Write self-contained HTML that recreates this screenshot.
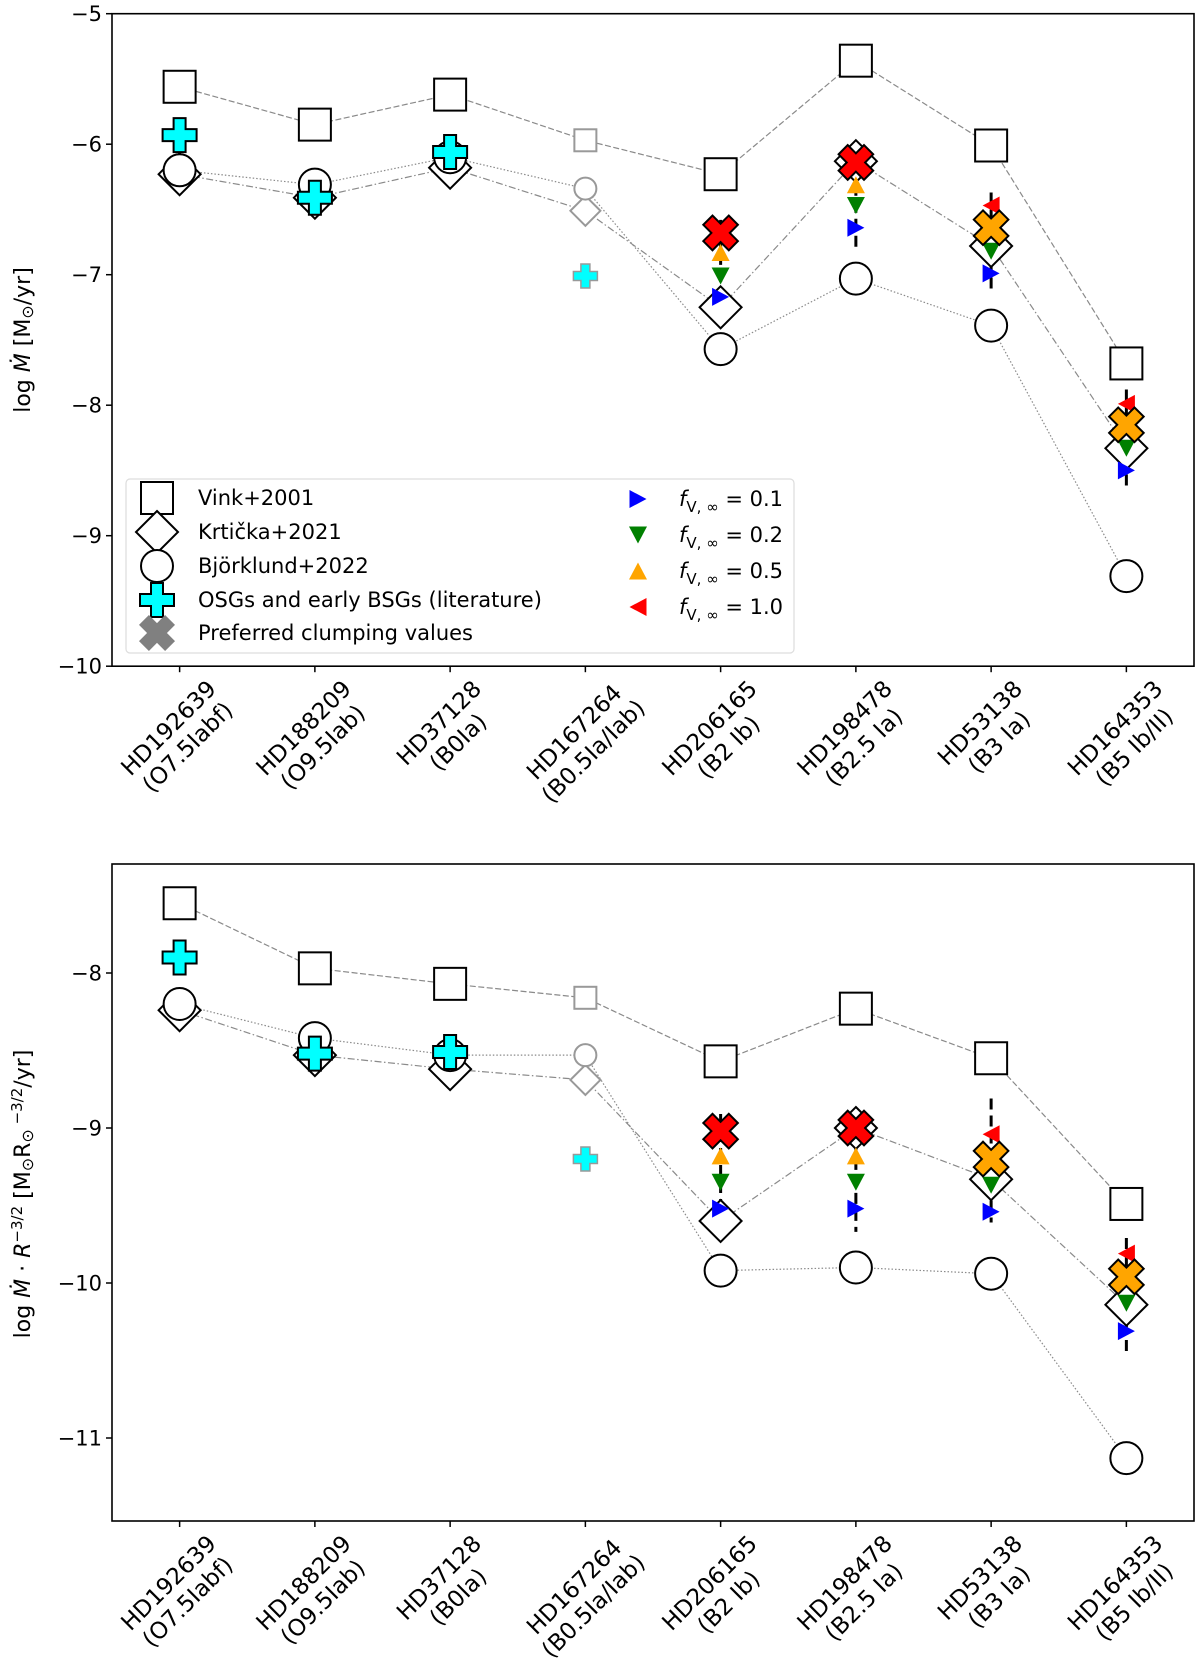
<!DOCTYPE html>
<html><head><meta charset="utf-8"><style>
body{margin:0;background:#fff}
svg{display:block;font-family:"DejaVu Sans","Liberation Sans",sans-serif}
</style></head><body>
<svg id="fig" width="1200" height="1668" viewBox="0 0 1200 1668" xmlns="http://www.w3.org/2000/svg">
<rect width="1200" height="1668" fill="#fff"/>
<g id="top"></g>
<g id="bot"></g>
<g id="legend"></g>
</svg>
<script>
const stars = ["HD192639","HD188209","HD37128","HD167264","HD206165","HD198478","HD53138","HD164353"];
const spTypes = ["(O7.5Iabf)","(O9.5Iab)","(B0Ia)","(B0.5Ia/Iab)","(B2 Ib)","(B2.5 Ia)","(B3 Ia)","(B5 Ib/II)"];
const clumpIdx = [4,5,6,7];
const prefColors = ["#ff0000","#ff0000","#ffa500","#ffa500"];
// top panel
const vinkTop = [-5.56,-5.85,-5.62,-5.97,-6.23,-5.36,-6.01,-7.68];
const krtTop = [-6.23,-6.41,-6.18,-6.51,-7.25,-6.13,-6.78,-8.33];
const bjoTop = [-6.20,-6.31,-6.10,-6.34,-7.57,-7.03,-7.39,-9.31];
const litTop = [-5.93,-6.41,-6.06,-7.01];
const prefTop = [-6.68,-6.14,-6.64,-8.15];
const fv01Top = [-7.17,-6.64,-6.99,-8.50];
const fv02Top = [-7.01,-6.47,-6.82,-8.33];
const fv05Top = [-6.83,-6.31,-6.64,-8.15];
const fv10Top = [-6.68,-6.14,-6.47,-7.99];
const errHiTop = [-6.58,-6.05,-6.37,-7.88];
const errLoTop = [-7.35,-6.82,-7.15,-8.66];
const yTicksTop = [-5,-6,-7,-8,-9,-10];
// bottom panel
const vinkBot = [-7.55,-7.97,-8.07,-8.16,-8.57,-8.23,-8.55,-9.49];
const krtBot = [-8.24,-8.53,-8.62,-8.69,-9.60,-9.00,-9.33,-10.14];
const bjoBot = [-8.20,-8.42,-8.53,-8.53,-9.92,-9.90,-9.94,-11.13];
const litBot = [-7.90,-8.52,-8.51,-9.20];
const prefBot = [-9.02,-9.00,-9.20,-9.96];
const fv01Bot = [-9.52,-9.52,-9.54,-10.31];
const fv02Bot = [-9.35,-9.35,-9.37,-10.13];
const fv05Bot = [-9.18,-9.18,-9.20,-9.96];
const fv10Bot = [-9.02,-9.00,-9.04,-9.81];
const errHiBot = [-8.91,-8.87,-8.81,-9.71];
const errLoBot = [-9.71,-9.67,-9.61,-10.46];
const yTicksBot = [-8,-9,-10,-11];

const NS="http://www.w3.org/2000/svg";
function mk(parent,tag,attrs){const e=document.createElementNS(NS,tag);for(const k in attrs)e.setAttribute(k,attrs[k]);parent.appendChild(e);return e;}
const X0=112,X1=1194;
function xPos(i){return X0+(i+0.5)*135.25;}
function yTop(v){return 13.7+(-5-v)*130.5;}
function yBot(v){return 973+(-8-v)*155;}

function crossPts(L,a,rot){
  const p=[[-a,-L],[a,-L],[a,-a],[L,-a],[L,a],[a,a],[a,L],[-a,L],[-a,a],[-L,a],[-L,-a],[-a,-a]];
  const c=Math.cos(rot),s=Math.sin(rot);
  return p.map(q=>[q[0]*c-q[1]*s,q[0]*s+q[1]*c]);
}
function poly(g,cx,cy,pts,fill,stroke,sw,name){
  const e=mk(g,'polygon',{points:pts.map(p=>(cx+p[0]).toFixed(1)+','+(cy+p[1]).toFixed(1)).join(' '),fill:fill,stroke:stroke,'stroke-width':sw,'stroke-linejoin':'miter'});
  
  
  return e;
}
function square(g,cx,cy,s,col,name){const e=mk(g,'rect',{x:cx-s/2,y:cy-s/2,width:s,height:s,fill:'#fff',stroke:col,'stroke-width':2});
  
  }
function diamond(g,cx,cy,h,col,name){poly(g,cx,cy,[[0,-h],[h,0],[0,h],[-h,0]],'#fff',col,2,name);}
function circ(g,cx,cy,r,col,name){const e=mk(g,'circle',{cx:cx,cy:cy,r:r,fill:'#fff',stroke:col,'stroke-width':2});
  
  }
function plus(g,cx,cy,L,a,stroke,name){poly(g,cx,cy,crossPts(L,a,0),'#00ffff',stroke,stroke==='#000'?2:1.5,name);}
function xmark(g,cx,cy,col,name){poly(g,cx,cy,crossPts(18,6.5,Math.PI/4),col,'#000',2,name);}
function tri(g,cx,cy,dir,col,name){
  const h=8.5,w=9;let p;
  if(dir==='r')p=[[-h,-w],[-h,w],[h,0]];
  else if(dir==='l')p=[[h,-w],[h,w],[-h,0]];
  else if(dir==='d')p=[[-w,-h],[w,-h],[0,h]];
  else p=[[-w,h],[w,h],[0,-h]];
  poly(g,cx,cy,p,col,'none',0,name);
}

function panel(gid,yF,top,bottom,yTicks,d,axisLabel,labelY){
  const g=document.getElementById(gid);
  const fr=mk(g,'rect',{x:X0,y:top,width:X1-X0,height:bottom-top,fill:'#fff',stroke:'#000','stroke-width':1.6});
  
  
  yTicks.forEach(v=>{
    const y=yF(v);
    mk(g,'line',{x1:X0-6,x2:X0,y1:y,y2:y,stroke:'#000','stroke-width':1.5});
    const t=mk(g,'text',{x:X0-10,y:y+7.5,'text-anchor':'end','font-size':21});
    t.textContent='\u2212'+Math.abs(v);
    
    
  });
  stars.forEach((s,i)=>{
    const x=xPos(i);
    mk(g,'line',{x1:x,x2:x,y1:bottom,y2:bottom+6,stroke:'#000','stroke-width':1.5});
    const lg=mk(g,'g',{});
    
    
    const t1=mk(lg,'text',{x:0,y:0,'text-anchor':'middle','font-size':23});t1.textContent=s;
    const t2=mk(lg,'text',{x:0,y:27,'text-anchor':'middle','font-size':23});t2.textContent=spTypes[i];
    const W=Math.max(t1.getComputedTextLength(),t2.getComputedTextLength());
    const asc=17,desc=33;
    const c=Math.SQRT1_2;
    const corners=[[-W/2,-asc],[W/2,-asc],[W/2,desc],[-W/2,desc]].map(p=>[p[0]*c+p[1]*c,-p[0]*c+p[1]*c]);
    const xs=corners.map(p=>p[0]),ys=corners.map(p=>p[1]);
    const cxb=(Math.min(...xs)+Math.max(...xs))/2, tb=Math.min(...ys);
    lg.setAttribute('transform','translate('+(x-cxb).toFixed(1)+','+(bottom+12-tb).toFixed(1)+') rotate(-45)');
  });
  const al=mk(g,'text',{x:0,y:0,'text-anchor':'middle','font-size':22,transform:'translate(30,'+labelY+') rotate(-90)'});
  al.innerHTML=axisLabel;
  
  
  const lineDefs=[[d.vink,'6,2.5','vink-line'],[d.krt,'7,2.5,1.5,2.5','krticka-line'],[d.bjo,'1.5,2','bjorklund-line']];
  lineDefs.forEach(ld=>{
    const pts=ld[0].map((v,i)=>xPos(i).toFixed(1)+','+yF(v).toFixed(1)).join(' ');
    const pl=mk(g,'polyline',{points:pts,fill:'none',stroke:'#8a8a8a','stroke-width':1.2,'stroke-dasharray':ld[1]});
    
    
  });
  clumpIdx.forEach((si,k)=>{
    const x=xPos(si);
    const e=mk(g,'line',{x1:x,x2:x,y1:yF(d.hi[k]),y2:yF(d.lo[k]),stroke:'#000','stroke-width':3,'stroke-dasharray':'11,6'});
    
    
  });
  d.vink.forEach((v,i)=>{const gr=i===3;square(g,xPos(i),yF(v),gr?22:32,gr?'#999':'#000','vink-marker');});
  d.krt.forEach((v,i)=>{const gr=i===3;diamond(g,xPos(i),yF(v),gr?15:21,gr?'#999':'#000','krticka-marker');});
  d.bjo.forEach((v,i)=>{const gr=i===3;circ(g,xPos(i),yF(v),gr?11:16,gr?'#999':'#000','bjorklund-marker');});
  d.lit.forEach((v,i)=>{const gr=i===3;plus(g,xPos(i),yF(v),gr?12:17,gr?4.5:6,gr?'#999':'#000','literature-marker');});
  clumpIdx.forEach((si,k)=>{
    const x=xPos(si);
    tri(g,x,yF(d.f01[k]),'r','#0000ff','fv-0.1-marker');
    tri(g,x,yF(d.f02[k]),'d','#008000','fv-0.2-marker');
    tri(g,x,yF(d.f05[k]),'u','#ffa500','fv-0.5-marker');
    tri(g,x,yF(d.f10[k]),'l','#ff0000','fv-1.0-marker');
  });
  clumpIdx.forEach((si,k)=>{xmark(g,xPos(si),yF(d.pref[k]),prefColors[k],'preferred-clumping-marker');});
}

panel('top',yTop,13.7,666.2,yTicksTop,
  {vink:vinkTop,krt:krtTop,bjo:bjoTop,lit:litTop,pref:prefTop,f01:fv01Top,f02:fv02Top,f05:fv05Top,f10:fv10Top,hi:errHiTop,lo:errLoTop},
  'log<tspan font-style="italic"> M\u0307</tspan> [M<tspan font-size="16" dy="3">\u2299</tspan><tspan dy="-3">/yr]</tspan>',340);
panel('bot',yBot,864,1521,yTicksBot,
  {vink:vinkBot,krt:krtBot,bjo:bjoBot,lit:litBot,pref:prefBot,f01:fv01Bot,f02:fv02Bot,f05:fv05Bot,f10:fv10Bot,hi:errHiBot,lo:errLoBot},
  'log<tspan font-style="italic"> M\u0307</tspan> \u00b7 <tspan font-style="italic">R</tspan><tspan font-size="15" dy="-8">\u22123/2</tspan><tspan dy="8"> [M</tspan><tspan font-size="16" dy="3">\u2299</tspan><tspan dy="-3">R</tspan><tspan font-size="16" dy="3">\u2299</tspan><tspan font-size="15" dy="-11"> \u22123/2</tspan><tspan dy="8">/yr]</tspan>',1194);

(function(){
  const g=document.getElementById('legend');
  mk(g,'rect',{x:126,y:479,width:668,height:174,rx:4,fill:'#fff','fill-opacity':0.85,stroke:'#ddd','stroke-width':1.2});
  const L=[['Vink+2001','sq'],['Krti\u010dka+2021','di'],['Bj\u00f6rklund+2022','ci'],['OSGs and early BSGs (literature)','pl'],['Preferred clumping values','x']];
  const ly=[498,532,566,600,633];
  L.forEach((e,k)=>{
    const y=ly[k];
    if(e[1]==='sq')square(g,157,y,32,'#000','legend-vink-marker');
    if(e[1]==='di')diamond(g,157,y,21,'#000','legend-krticka-marker');
    if(e[1]==='ci')circ(g,157,y,16,'#000','legend-bjorklund-marker');
    if(e[1]==='pl')plus(g,157,y,17,6,'#000','legend-literature-marker');
    if(e[1]==='x')poly(g,157,y,crossPts(18,6.5,Math.PI/4),'#808080','#808080',1,'legend-preferred-marker');
    const t=mk(g,'text',{x:198,y:y+7,'font-size':21});t.textContent=e[0];
    
    
  });
  const R=[['0.1','r','#0000ff'],['0.2','d','#008000'],['0.5','u','#ffa500'],['1.0','l','#ff0000']];
  const ry=[499,535,571,607];
  R.forEach((e,k)=>{
    const y=ry[k];
    tri(g,638,y,e[1],e[2],'legend-fv-marker');
    const t=mk(g,'text',{x:679,y:y+7,'font-size':21});
    t.innerHTML='<tspan font-style="italic">f</tspan><tspan font-size="15" dy="6">V, \u221e</tspan><tspan dy="-6"> = '+e[0]+'</tspan>';
    
    
  });
})();
</script>
</body></html>
